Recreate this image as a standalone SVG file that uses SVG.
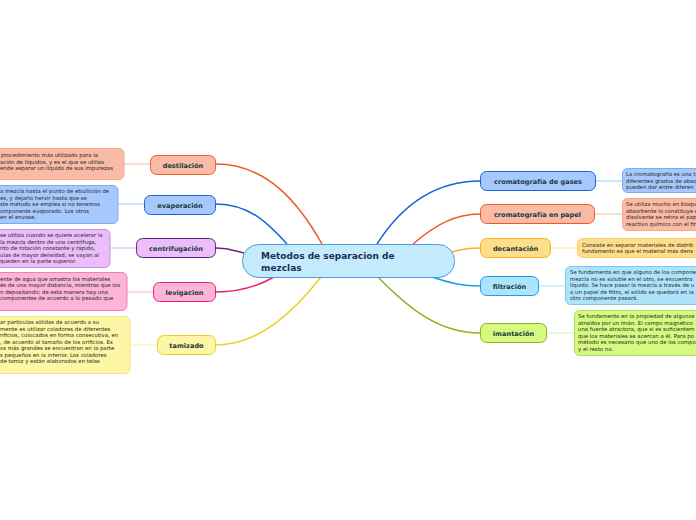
<svg xmlns="http://www.w3.org/2000/svg" width="696" height="520" viewBox="0 0 696 520">
<style>
.lbl{font-family:"DejaVu Sans",Verdana,sans-serif;font-weight:bold;font-size:6.6px;fill:#1c3a3c;text-anchor:middle}
.c{font-family:"DejaVu Sans",Verdana,sans-serif;font-weight:bold;font-size:9px;fill:#1c2e5a}
.t{font-family:"DejaVu Sans",Verdana,sans-serif;font-size:5.4px;fill:#262626}
.cn{fill:none;stroke-width:1.5}
.dl{fill:none;stroke-width:1.2}
</style>
<rect width="696" height="520" fill="#fff"/>
<g id="connectors">
<path class="cn" stroke="#f05a28" d="M216,164 C268,164 300,205 322,244"/>
<path class="cn" stroke="#1565d8" d="M216,204 C250,204 270,225 287,244"/>
<path class="cn" stroke="#6b2380" d="M216,248 C230,248 235,251 244,253"/>
<path class="cn" stroke="#ec1e79" d="M216,292 C240,292 260,285 274,277"/>
<path class="cn" stroke="#e6d324" d="M216,345 C260,345 295,310 321,277"/>
<path class="cn" stroke="#1565d8" d="M377,244 C405,200 440,181 480,181"/>
<path class="cn" stroke="#f05a28" d="M413,244 C435,225 455,214 480,214"/>
<path class="cn" stroke="#f7b519" d="M452,252 C462,249 470,248 480,248"/>
<path class="cn" stroke="#13a3e8" d="M432,277 C450,283 462,286 480,286"/>
<path class="cn" stroke="#86b619" d="M378,277 C410,310 440,333 480,333"/>
<path class="dl" stroke="#f9c6b4" d="M124,164 H150"/>
<path class="dl" stroke="#b4d0fb" d="M118,204 H144"/>
<path class="dl" stroke="#e5c2f4" d="M110,248 H136"/>
<path class="dl" stroke="#f9c0dc" d="M127,292 H153"/>
<path class="dl" stroke="#fbf2b4" d="M130,345 H157"/>
<path class="dl" stroke="#b4d0fb" d="M596,181 H622"/>
<path class="dl" stroke="#f9c6b4" d="M595,214 H622"/>
<path class="dl" stroke="#fde4a4" d="M551,248 H577"/>
<path class="dl" stroke="#bde6f8" d="M539,286 H565"/>
<path class="dl" stroke="#dff3c0" d="M547,333 H574"/>
</g>
<g id="central">
<rect x="242.5" y="244.5" width="212" height="33" rx="16" fill="#c4ebfc" stroke="#4a9be0"/>
<text class="c" x="261" y="259">Metodos de separacion de</text>
<text class="c" x="261" y="271">mezclas</text>
</g>
<g id="destilacion">
<rect x="150.5" y="155.5" width="65" height="19" rx="6" fill="#f9bba6" stroke="#f05a28"/>
<text class="lbl" x="183" y="167.5">destilación</text>
</g>
<g id="evaporacion">
<rect x="144.5" y="195.5" width="71" height="19" rx="6" fill="#a7c8fc" stroke="#1565d8"/>
<text class="lbl" x="180" y="207.5">evaporación</text>
</g>
<g id="centrifugacion">
<rect x="136.5" y="238.5" width="79" height="19" rx="6" fill="#ebbdfb" stroke="#6b2380"/>
<text class="lbl" x="176" y="250.5">centrifugación</text>
</g>
<g id="levigacion">
<rect x="153.5" y="282.5" width="62" height="19" rx="6" fill="#fcb4d7" stroke="#ec1e79"/>
<text class="lbl" x="184.5" y="294.5">levigacion</text>
</g>
<g id="tamizado">
<rect x="157.5" y="335.5" width="58" height="19" rx="6" fill="#fdf6a6" stroke="#e6d324"/>
<text class="lbl" x="186.5" y="347.5">tamizado</text>
</g>
<g id="gases">
<rect x="480.5" y="171.5" width="115" height="19" rx="6" fill="#a7c8fc" stroke="#1565d8"/>
<text class="lbl" x="538" y="183.5">cromatografía de gases</text>
</g>
<g id="papel">
<rect x="480.5" y="204.5" width="114" height="19" rx="6" fill="#f9bba6" stroke="#f05a28"/>
<text class="lbl" x="537.5" y="216.5">cromatografía en papel</text>
</g>
<g id="decantacion">
<rect x="480.5" y="238.5" width="70" height="19" rx="6" fill="#fede8a" stroke="#f7b519"/>
<text class="lbl" x="515.5" y="250.5">decantación</text>
</g>
<g id="filtracion">
<rect x="480.5" y="276.5" width="58" height="19" rx="6" fill="#aee4fb" stroke="#13a3e8"/>
<text class="lbl" x="509.5" y="288.5">filtración</text>
</g>
<g id="imantacion">
<rect x="480.5" y="323.5" width="66" height="19" rx="6" fill="#d5f981" stroke="#86b619"/>
<text class="lbl" x="513.5" y="335.5">imantación</text>
</g>
<g id="destilacion-nota">
<rect x="-10" y="148.5" width="134" height="31" rx="5" fill="#f9bba6" stroke="#f7a98e"/>
<text class="t" x="1" y="157">procedimiento más utilizado para la</text>
<text class="t" x="0" y="163.5">ación de líquidos, y es el que se utiliza</text>
<text class="t" x="0" y="170">ende separar un líquido de sus impurezas</text>
</g>
<g id="evaporacion-nota">
<rect x="-10" y="185.5" width="128" height="38" rx="5" fill="#a7c8fc" stroke="#7aacf0"/>
<text class="t" x="0" y="193">a mezcla hasta el punto de ebullición de</text>
<text class="t" x="0" y="199.5">es, y dejarlo hervir hasta que se</text>
<text class="t" x="0" y="206">ste método se emplea si no tenemos</text>
<text class="t" x="0" y="212.5">omponente evaporado. Los otros</text>
<text class="t" x="0" y="219">en el envase.</text>
</g>
<g id="centrifugacion-nota">
<rect x="-10" y="229.5" width="120" height="38" rx="5" fill="#ebbdfb" stroke="#c58ee0"/>
<text class="t" x="0" y="237">se utiliza cuando se quiere acelerar la</text>
<text class="t" x="0" y="243.5">la mezcla dentro de una centrífuga,</text>
<text class="t" x="0" y="250">nto de rotación constante y rápido,</text>
<text class="t" x="0" y="256.5">ulas de mayor densidad, se vayan al</text>
<text class="t" x="0" y="263">queden en la parte superior.</text>
</g>
<g id="levigacion-nota">
<rect x="-10" y="272.5" width="137" height="38" rx="5" fill="#fcb4d7" stroke="#f27fb4"/>
<text class="t" x="0" y="280.5">ente de agua que arrastra los materiales</text>
<text class="t" x="0" y="287">és de una mayor distancia, mientras que los</text>
<text class="t" x="0" y="293.5">n depositando; de esta manera hay una</text>
<text class="t" x="0" y="300">componentes de acuerdo a lo pesado que</text>
</g>
<g id="tamizado-nota">
<rect x="-10" y="316.5" width="140" height="57" rx="5" fill="#fdf6a6" stroke="#efe37a"/>
<text class="t" x="0" y="324">ar partículas sólidas de acuerdo a su</text>
<text class="t" x="0" y="330.5">mente es utilizar coladores de diferentes</text>
<text class="t" x="0" y="337">rificios, colocados en forma consecutiva, en</text>
<text class="t" x="0" y="343.5">, de acuerdo al tamaño de los orificios. Es</text>
<text class="t" x="0" y="350">os más grandes se encuentran en la parte</text>
<text class="t" x="0" y="356.5">s pequeños en la inferior. Los coladores</text>
<text class="t" x="0" y="363">de tamiz y están elaborados en telas</text>
</g>
<g id="gases-nota">
<rect x="622.5" y="168.5" width="90" height="24" rx="5" fill="#a7c8fc" stroke="#7aacf0"/>
<text class="t" x="626" y="176">La cromatografía es una t</text>
<text class="t" x="626" y="182.5">diferentes grados de abso</text>
<text class="t" x="626" y="189">pueden dar entre diferen</text>
</g>
<g id="papel-nota">
<rect x="622.5" y="198.5" width="90" height="32" rx="5" fill="#f9bba6" stroke="#f7a98e"/>
<text class="t" x="626" y="206">Se utiliza mucho en bioqu</text>
<text class="t" x="626" y="212.5">absorbente lo constituye e</text>
<text class="t" x="626" y="219">disolvente se retira el pap</text>
<text class="t" x="626" y="225.5">reactivo químico con el fin</text>
</g>
<g id="decantacion-nota">
<rect x="577.5" y="238.5" width="130" height="19" rx="5" fill="#fede8a" stroke="#f7cf6a"/>
<text class="t" x="582" y="246.5">Consiste en separar materiales de distrib</text>
<text class="t" x="582" y="253">fundamento es que el material más dens</text>
</g>
<g id="filtracion-nota">
<rect x="565.5" y="266.5" width="140" height="38" rx="5" fill="#aee4fb" stroke="#7cc9ef"/>
<text class="t" x="570" y="274">Se fundamenta en que alguno de los compone</text>
<text class="t" x="570" y="280.5">mezcla no es soluble en el otro, se encuentra</text>
<text class="t" x="570" y="287">líquido. Se hace pasar la mezcla a través de u</text>
<text class="t" x="570" y="293.5">o un papel de filtro, el sólido se quedará en la</text>
<text class="t" x="570" y="300">otro componente pasará.</text>
</g>
<g id="imantacion-nota">
<rect x="574.5" y="310.5" width="130" height="45" rx="5" fill="#d5f981" stroke="#b0dc5a"/>
<text class="t" x="578" y="318">Se fundamenta en la propiedad de algunos</text>
<text class="t" x="578" y="324.5">atraídos por un imán. El campo magnético</text>
<text class="t" x="578" y="331">una fuente atractora, que si es suficientem</text>
<text class="t" x="578" y="337.5">que los materiales se acercan a él. Para po</text>
<text class="t" x="578" y="344">método es necesario que uno de los compo</text>
<text class="t" x="578" y="350.5">y el resto no.</text>
</g>
</svg>
